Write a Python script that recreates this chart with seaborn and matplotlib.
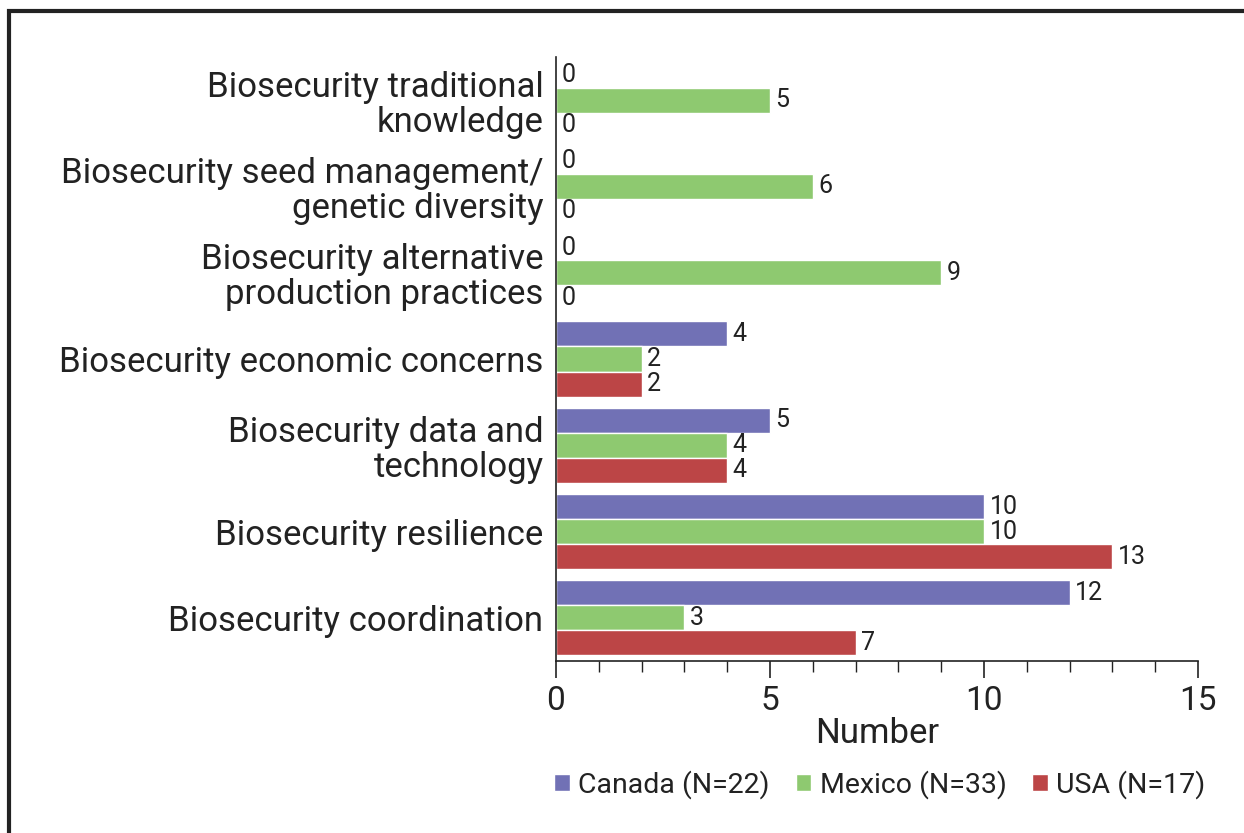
import matplotlib
matplotlib.use("Agg")
import matplotlib.pyplot as plt
from matplotlib.patches import Rectangle
from matplotlib.ticker import MultipleLocator
import seaborn as sns
import pandas as pd

categories = [
    "Biosecurity traditional\nknowledge",
    "Biosecurity seed management/\ngenetic diversity",
    "Biosecurity alternative\nproduction practices",
    "Biosecurity economic concerns",
    "Biosecurity data and\ntechnology",
    "Biosecurity resilience",
    "Biosecurity coordination",
]
series_names = ["Canada (N=22)", "Mexico (N=33)", "USA (N=17)"]
canada = [0, 0, 0, 4, 5, 10, 12]
mexico = [5, 6, 9, 2, 4, 10, 3]
usa = [0, 0, 0, 2, 4, 13, 7]
colors = ["#7171B5", "#8EC970", "#BC4546"]

rows = []
for name, vals in zip(series_names, [canada, mexico, usa]):
    for c, v in zip(categories, vals):
        rows.append({"category": c, "series": name, "value": v})
df = pd.DataFrame(rows)

sns.set_theme(style="white")
plt.rcParams["font.family"] = ["Roboto", "DejaVu Sans"]

fig = plt.figure(figsize=(12.44, 8.33), dpi=100)
ax = fig.add_axes([556/1244, 1-661/833, (1198-556)/1244, (661-57)/833])

sns.barplot(data=df, y="category", x="value", hue="series", order=categories,
            hue_order=series_names, palette=colors, orient="h", width=0.87, gap=0,
            saturation=1, ax=ax, legend=True)

for cont in ax.containers:
    ax.bar_label(cont, fmt="%d", padding=4, fontsize=18, color="#222222")

ax.set_xlim(0, 15)
ax.set_ylim(6.5, -0.5)
ax.xaxis.set_major_locator(MultipleLocator(5))
ax.xaxis.set_minor_locator(MultipleLocator(1))
ax.tick_params(axis="x", which="major", direction="out", length=12, width=1.2,
               labelsize=24, pad=5, colors="#222222", bottom=True)
ax.tick_params(axis="x", which="minor", direction="out", length=8, width=1,
               bottom=True, colors="#222222")
ax.tick_params(axis="y", length=0, labelsize=25, pad=9, labelcolor="#222222")
for lbl in ax.get_yticklabels():
    lbl.set_horizontalalignment("right")
    lbl.set_linespacing(1.08)
ax.set_ylabel("")
ax.set_xlabel("Number", fontsize=25, color="#222222", labelpad=0)
for s in ["top", "right"]:
    ax.spines[s].set_visible(False)
for s in ["left", "bottom"]:
    ax.spines[s].set_color("#222222")
    ax.spines[s].set_linewidth(1.2)

handles, labels = ax.get_legend_handles_labels()
ax.get_legend().remove()
fig.legend(handles, labels, loc="center", bbox_to_anchor=(880/1244, 1-785/833),
           ncol=3, frameon=False, fontsize=20.5, handlelength=0.55, handleheight=0.55,
           handletextpad=0.3, columnspacing=0.9, labelcolor="#222222")

fig.patches.append(Rectangle((9/1244, -0.1), 1.2, 1-11/833+0.1, transform=fig.transFigure,
                             fill=False, edgecolor="#222222", linewidth=3, zorder=0))

fig.savefig("out.png", dpi=100)
